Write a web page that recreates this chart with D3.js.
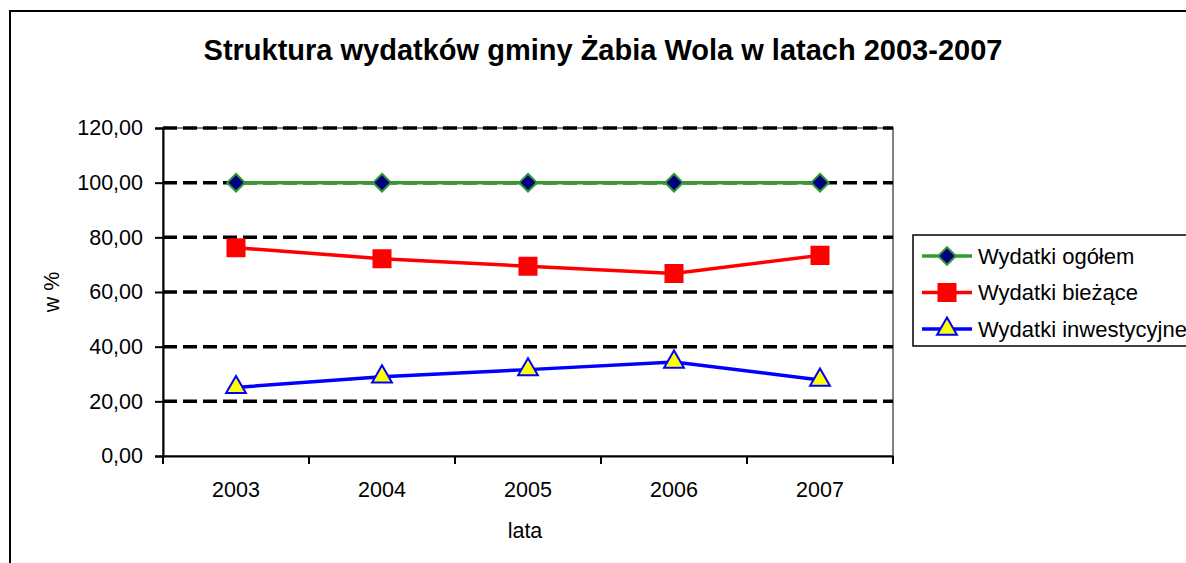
<!DOCTYPE html>
<html>
<script src="https://d3js.org/d3.v7.min.js"></script>
<style>
    body { margin: 0; background: #fff; }
    text { font-family: "Liberation Sans", Arial, sans-serif; }
</style>
<body></body>
<script>
    const years = ["2003", "2004", "2005", "2006", "2007"];
    const ogolem = [100, 100, 100, 100, 100];
    const biezace = [76.2, 72.2, 69.4, 66.8, 73.4];
    const inwest = [25.1, 29.0, 31.6, 34.4, 27.8];
    const yTicks = [0, 20, 40, 60, 80, 100, 120];
    const seriesNames = ["Wydatki ogółem", "Wydatki bieżące", "Wydatki inwestycyjne"];

    const width = 1186, height = 563;
    const svg = d3.select("body").append("svg").attr("width", width).attr("height", height);

    // outer chart frame (runs off the right/bottom edge)
    svg.append("rect").attr("x", 10).attr("y", 11).attr("width", 1200).attr("height", 600)
        .attr("fill", "none").attr("stroke", "black").attr("stroke-width", 2);

    const x = d3.scaleBand().domain(years).range([163, 893]);
    const y = d3.scaleLinear().domain([0, 120]).range([456, 128]);

    // plot area border
    svg.append("rect").attr("x", 163).attr("y", 128).attr("width", 730).attr("height", 328)
        .attr("fill", "none").attr("stroke", "#808080").attr("stroke-width", 2);

    // dashed gridlines
    svg.selectAll(".grid").data(yTicks.filter(d => d > 0)).join("line")
        .attr("x1", 163).attr("x2", 893)
        .attr("y1", d => y(d)).attr("y2", d => y(d))
        .attr("stroke", "black").attr("stroke-width", 3.5).attr("stroke-dasharray", "14,6");

    const fmt = d => d.toFixed(2).replace(".", ",");
    const yAxis = svg.append("g").attr("transform", "translate(163,0)")
        .call(d3.axisLeft(y).tickValues(yTicks).tickFormat(fmt).tickSize(8).tickPadding(12));
    const xAxis = svg.append("g").attr("transform", "translate(0,456)")
        .call(d3.axisBottom(x).tickSize(0).tickPadding(26));
    // x ticks sit on band boundaries
    xAxis.selectAll(".bound").data(d3.range(years.length + 1)).join("line")
        .attr("x1", i => 163 + i * x.bandwidth()).attr("x2", i => 163 + i * x.bandwidth())
        .attr("y1", 0).attr("y2", 8).attr("stroke", "black").attr("stroke-width", 2);
    [yAxis, xAxis].forEach(g => {
        g.select(".domain").attr("stroke-width", 2);
        g.selectAll(".tick line").attr("stroke-width", 2);
        g.selectAll(".tick text").attr("font-size", 21.5).attr("fill", "black")
            .style("font-family", "'Liberation Sans', Arial, sans-serif");
    });

    const cx = d => x(d) + x.bandwidth() / 2;
    const series = [
        { name: seriesNames[0], values: ogolem, line: "#339933", fill: "#000080", stroke: "#339933", shape: d3.symbolDiamond2, size: 200 },
        { name: seriesNames[1], values: biezace, line: "#ff0000", fill: "#ff0000", stroke: "#ff0000", shape: d3.symbolSquare, size: 290 },
        { name: seriesNames[2], values: inwest, line: "#0000ff", fill: "#ffff00", stroke: "#0000ff", shape: d3.symbolTriangle, size: 170 }
    ];

    series.forEach(s => {
        svg.append("path").datum(years)
            .attr("fill", "none").attr("stroke", s.line).attr("stroke-width", 3.5)
            .attr("d", d3.line().x(cx).y((d, i) => y(s.values[i])));
        svg.selectAll(null).data(years).join("path")
            .attr("transform", (d, i) => `translate(${cx(d)},${y(s.values[i])})`)
            .attr("d", d3.symbol().type(s.shape).size(s.size))
            .attr("fill", s.fill).attr("stroke", s.stroke).attr("stroke-width", 2);
    });

    // title and axis labels
    svg.append("text").attr("x", 603).attr("y", 60).attr("text-anchor", "middle")
        .attr("font-size", 29).attr("font-weight", "bold")
        .text("Struktura wydatków gminy Żabia Wola w latach 2003-2007");
    svg.append("text").attr("x", 525).attr("y", 538).attr("text-anchor", "middle")
        .attr("font-size", 21.5).text("lata");
    svg.append("text").attr("transform", "translate(59,292) rotate(-90)").attr("text-anchor", "middle")
        .attr("font-size", 21.5).text("w %");

    // legend
    svg.append("rect").attr("x", 913).attr("y", 235).attr("width", 300).attr("height", 111)
        .attr("fill", "white").attr("stroke", "black").attr("stroke-width", 1.5);
    series.forEach((s, i) => {
        const ly = 256 + i * 36.5;
        svg.append("line").attr("x1", 922).attr("x2", 972).attr("y1", ly).attr("y2", ly)
            .attr("stroke", s.line).attr("stroke-width", 3.5);
        svg.append("path").attr("transform", `translate(947,${ly})`)
            .attr("d", d3.symbol().type(s.shape).size(s.size))
            .attr("fill", s.fill).attr("stroke", s.stroke).attr("stroke-width", 2);
        svg.append("text").attr("x", 978).attr("y", ly + 7.5).attr("font-size", 22).text(s.name);
    });
</script>
</html>
